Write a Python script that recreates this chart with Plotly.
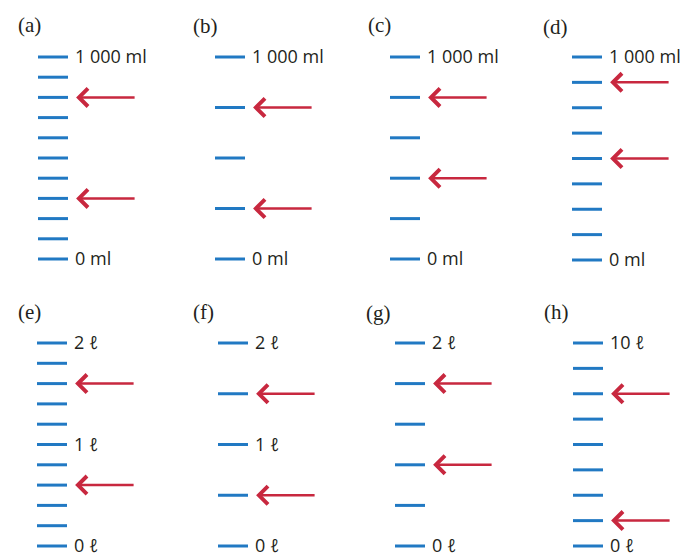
import plotly.graph_objects as go

# volume scales, one per panel (values in ml for the top row, litres below)
letters = ["(a)", "(b)", "(c)", "(d)", "(e)", "(f)", "(g)", "(h)"]

ticks_a = [0, 100, 200, 300, 400, 500, 600, 700, 800, 900, 1000]
ticks_b = [0, 250, 500, 750, 1000]
ticks_c = [0, 200, 400, 600, 800, 1000]
ticks_d = [0, 125, 250, 375, 500, 625, 750, 875, 1000]
ticks_e = [0, 0.2, 0.4, 0.6, 0.8, 1.0, 1.2, 1.4, 1.6, 1.8, 2.0]
ticks_f = [0, 0.5, 1.0, 1.5, 2.0]
ticks_g = [0, 0.4, 0.8, 1.2, 1.6, 2.0]
ticks_h = [0, 1.25, 2.5, 3.75, 5.0, 6.25, 7.5, 8.75, 10.0]

arrows_a = [800, 300]
arrows_b = [750, 250]
arrows_c = [800, 400]
arrows_d = [875, 500]
arrows_e = [1.6, 0.6]
arrows_f = [1.5, 0.5]
arrows_g = [1.6, 0.8]
arrows_h = [7.5, 1.25]

labels_ml = {1000: "1 000 ml", 0: "0 ml"}
labels_a = labels_ml
labels_b = labels_ml
labels_c = labels_ml
labels_d = labels_ml
labels_e = {2.0: "2 ℓ", 1.0: "1 ℓ", 0: "0 ℓ"}
labels_f = {2.0: "2 ℓ", 1.0: "1 ℓ", 0: "0 ℓ"}
labels_g = {2.0: "2 ℓ", 0: "0 ℓ"}
labels_h = {10.0: "10 ℓ", 0: "0 ℓ"}

panels = [
    (ticks_a, arrows_a, labels_a),
    (ticks_b, arrows_b, labels_b),
    (ticks_c, arrows_c, labels_c),
    (ticks_d, arrows_d, labels_d),
    (ticks_e, arrows_e, labels_e),
    (ticks_f, arrows_f, labels_f),
    (ticks_g, arrows_g, labels_g),
    (ticks_h, arrows_h, labels_h),
]

W, H = 691, 556
OFF = 8  # the page body margin shifts the plot by 8px
BLUE = "#2179c3"
RED = "#c8283f"
INK = "#231f20"
TICK_PX = 30  # one x unit = length of a scale mark
PAD = 9

# page-pixel placement of each scale: left edge of marks, top mark, zero mark
tick_left = [38, 215, 390, 572, 37, 218, 395, 573]
row_top = [57, 57, 57, 57, 343, 343, 343, 343]
row_zero = [259, 259, 259, 260, 546, 546, 546, 546]
letter_pos = [(29, 25), (205, 26), (379, 25), (555, 27),
              (29, 312), (203, 312), (378, 313), (556, 312)]

fig = go.Figure()
annotations = []
layout_axes = {}

for i, (ticks, arrows, labels) in enumerate(panels):
    n = "" if i == 0 else str(i + 1)
    xr, yr = "x" + n, "y" + n
    vmax = max(ticks)

    left = tick_left[i] - OFF
    right = min(left + 150, W)
    top = row_top[i] - OFF
    zero = row_zero[i] - OFF
    span = zero - top
    lo = -PAD / span * vmax
    hi = vmax + PAD / span * vmax
    layout_axes["xaxis" + n] = dict(
        domain=[left / W, right / W], range=[0, (right - left) / TICK_PX],
        visible=False, fixedrange=True, anchor=yr,
    )
    layout_axes["yaxis" + n] = dict(
        domain=[1 - (zero + PAD) / H, 1 - (top - PAD) / H],
        range=[lo, hi], visible=False, fixedrange=True, anchor=xr,
    )

    xs, ys = [], []
    for v in ticks:
        xs += [0, 1, None]
        ys += [v, v, None]
    fig.add_trace(go.Scatter(
        x=xs, y=ys, mode="lines", xaxis=xr, yaxis=yr,
        line=dict(color=BLUE, width=3), hoverinfo="skip", showlegend=False,
    ))

    for v, txt in labels.items():
        annotations.append(dict(
            x=1.2, y=v, xref=xr, yref=yr, text=txt, showarrow=False,
            xanchor="left", yanchor="middle", borderpad=0, yshift=1,
            font=dict(family="Open Sans, DejaVu Sans", size=18, color=INK),
        ))

    for v in arrows:
        annotations.append(dict(
            x=1.27, y=v, ax=3.27, ay=v, xref=xr, yref=yr, axref=xr, ayref=yr,
            text="", showarrow=True, arrowhead=4, arrowsize=1.4,
            arrowwidth=2.5, arrowcolor=RED, standoff=0,
        ))

    lx, ly = letter_pos[i]
    annotations.append(dict(
        x=(lx - OFF) / W, y=1 - (ly - OFF) / H, xref="paper", yref="paper",
        text=letters[i], showarrow=False, xanchor="center", yanchor="middle",
        font=dict(family="Liberation Serif", size=21, color=INK),
    ))

fig.update_layout(
    width=W, height=H,
    margin=dict(l=0, r=0, t=0, b=0),
    paper_bgcolor="white", plot_bgcolor="rgba(0,0,0,0)",
    annotations=annotations,
    **layout_axes,
)

fig.write_html("out.html", config={"displayModeBar": False})
